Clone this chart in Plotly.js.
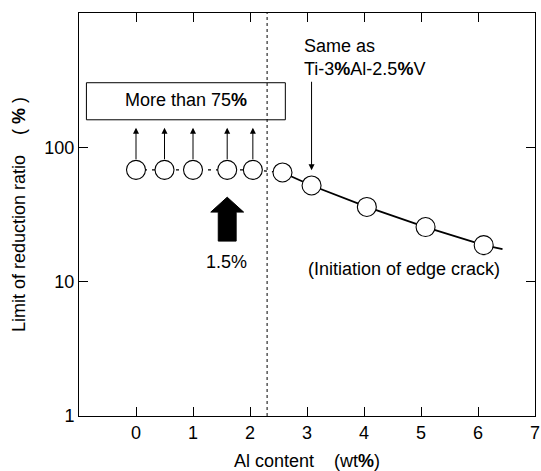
<!DOCTYPE html>
<html>
<head>
<meta charset="utf-8">
<script src="https://cdn.plot.ly/plotly-3.0.1.min.js"></script>
<style>html,body{margin:0;padding:0;background:#fff;}#chart{width:541px;height:471px;}</style>
</head>
<body>
<div id="chart"></div>
<script>
// Data
var leftX = [0, 0.5, 1.0, 1.6, 2.05];
var leftY = [68, 68, 68, 68, 68];
var rightX = [2.57, 3.08, 4.05, 5.08, 6.1];
var rightY = [65, 52, 36, 25.5, 18.7];
var trendEndX = [6.43];
var trendEndY = [17.5];
var arrowTipY = 140;          // tip of "more than" arrows
var xTicks = [0, 1, 2, 3, 4, 5, 6, 7];
var yTicks = [1, 10, 100, 1000];
var yTickText = ['1', '10', '100', ''];
var boundaryX = 2.3;          // dotted boundary

var FONT = 'Liberation Sans, Arial, sans-serif';
var FS = 18;
var L = Math.log10;

var dashX = leftX.concat([rightX[0]]);
var dashY = leftY.concat([rightY[0]]);
var solidX = rightX.concat(trendEndX);
var solidY = rightY.concat(trendEndY);

var traces = [
  {x: dashX, y: dashY, mode: 'lines', line: {color: '#000', width: 1.3, dash: '3px,5px'}, hoverinfo: 'skip', showlegend: false},
  {x: solidX, y: solidY, mode: 'lines', line: {color: '#000', width: 1.8}, hoverinfo: 'skip', showlegend: false},
  {x: leftX.concat(rightX), y: leftY.concat(rightY), mode: 'markers',
   marker: {symbol: 'circle', size: 19, color: '#fff', line: {color: '#000', width: 1.1}}, showlegend: false}
];

var annotations = [];
leftX.forEach(function (x) {
  annotations.push({x: x, y: L(arrowTipY), xref: 'x', yref: 'y', ax: 0, ay: 33, axref: 'pixel', ayref: 'pixel',
    showarrow: true, arrowhead: 2, arrowsize: 1.2, arrowwidth: 1, arrowcolor: '#000', text: ''});
});
annotations.push({x: rightX[1], y: L(67.5), xref: 'x', yref: 'y', ax: 0, ay: -90,
  showarrow: true, arrowhead: 2, arrowsize: 1.2, arrowwidth: 1, arrowcolor: '#000', text: ''});
annotations.push({x: 0.87, y: L(100) + 0.349, xref: 'x', yref: 'y', text: 'More than 75<b>%</b>', showarrow: false,
  font: {family: FONT, size: FS, color: '#000'}});
annotations.push({x: 1.59, y: L(100) - 0.855, xref: 'x', yref: 'y', text: '1.5%', showarrow: false,
  font: {family: FONT, size: FS, color: '#000'}});
annotations.push({x: 2.92, y: L(100) + 0.669, xref: 'x', yref: 'y', text: 'Same as<br>Ti-3<b>%</b>Al-2.5<b>%</b>V', showarrow: false,
  xanchor: 'left', align: 'left', font: {family: FONT, size: FS, color: '#000'}});
annotations.push({x: 4.70, y: L(100) - 0.907, xref: 'x', yref: 'y', text: '(Initiation of edge crack)', showarrow: false,
  font: {family: FONT, size: FS, color: '#000'}});

var shapes = [
  {type: 'line', xref: 'x', yref: 'paper', x0: boundaryX, x1: boundaryX, y0: 0, y1: 1, line: {color: '#000', width: 1, dash: 'dot'}},
  {type: 'rect', xref: 'x', yref: 'paper', x0: -0.87, x1: 2.62, y0: 0.735, y1: 0.827, line: {color: '#000', width: 1}, fillcolor: 'rgba(0,0,0,0)'},
  {type: 'path', xref: 'x', yref: 'paper', fillcolor: '#000', line: {color: '#000', width: 1},
   path: 'M 1.6,0.543 L 1.888,0.506 L 1.757,0.506 L 1.757,0.434 L 1.443,0.434 L 1.443,0.506 L 1.312,0.506 Z'}
];

var layout = {
  width: 541, height: 471,
  margin: {l: 79, r: 6, t: 13, b: 55},
  paper_bgcolor: '#fff', plot_bgcolor: '#fff',
  font: {family: FONT, size: FS, color: '#000'},
  xaxis: {range: [-1, 7], tickvals: xTicks, ticks: 'inside', ticklen: 9, tickcolor: '#000', tickwidth: 1,
    ticklabeloverflow: 'allow',
    showline: true, linecolor: '#000', linewidth: 1, mirror: 'ticks', showgrid: false, zeroline: false,
    tickfont: {family: FONT, size: FS}, title: {text: 'Al content    (wt<b>%</b>)', font: {family: FONT, size: FS}, standoff: 14}},
  yaxis: {type: 'log', range: [0, 3], tickvals: yTicks, ticktext: yTickText, ticks: 'inside', ticklen: 9, tickcolor: '#000', tickwidth: 1,
    showline: true, linecolor: '#000', linewidth: 1, mirror: 'ticks', showgrid: false, zeroline: false,
    tickfont: {family: FONT, size: FS}, title: {text: 'Limit of reduction ratio    ( <b>%</b> )', font: {family: FONT, size: FS}, standoff: 14}},
  annotations: annotations,
  shapes: shapes,
  showlegend: false
};

Plotly.newPlot('chart', traces, layout, {displayModeBar: false, staticPlot: true});
</script>
</body>
</html>
